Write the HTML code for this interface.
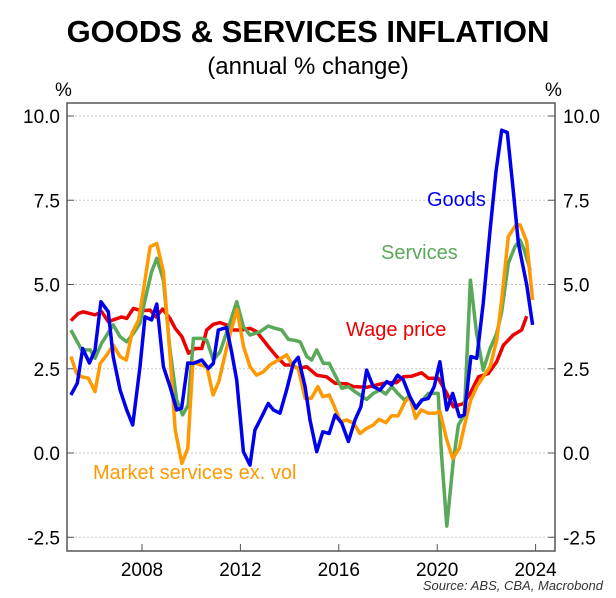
<!DOCTYPE html>
<html><head><meta charset="utf-8"><style>
body{margin:0;background:#fff;}
svg{display:block;font-family:"Liberation Sans",sans-serif;}
</style></head><body>
<svg width="616" height="598" viewBox="0 0 616 598">
<text x="308" y="42" text-anchor="middle" font-size="31" font-weight="bold">GOODS &amp; SERVICES INFLATION</text>
<text x="308" y="74" text-anchor="middle" font-size="24">(annual % change)</text>
<text x="55" y="96" font-size="19">%</text>
<text x="545" y="96" font-size="19">%</text>
<g id="grid"></g>
<g id="ticks"></g>
<g id="series"></g>
<rect x="67" y="103" width="488" height="448" fill="none" stroke="#555" stroke-width="1.5"/>
<text x="427" y="206" font-size="20" fill="#0000ee">Goods</text>
<text x="381" y="259" font-size="20" fill="#5aa85a">Services</text>
<text x="346" y="336" font-size="20" fill="#ee0000">Wage price</text>
<text x="93" y="479" font-size="20" fill="#ff9900">Market services ex. vol</text>
<text x="603" y="590" text-anchor="end" font-size="13" font-style="italic" fill="#333">Source: ABS, CBA, Macrobond</text>
</svg>
<script>
const yTicks=[10,7.5,5,2.5,0,-2.5];
const yTickLabels=["10.0","7.5","5.0","2.5","0.0","-2.5"];
const xTicks=[2008,2012,2016,2020,2024];
const goodsYears=[2005.11,2005.37,2005.59,2005.86,2006.09,2006.33,2006.63,2006.83,2007.11,2007.38,2007.62,2007.92,2008.12,2008.39,2008.6,2008.87,2009.14,2009.41,2009.61,2009.86,2010.09,2010.43,2010.7,2010.9,2011.1,2011.44,2011.65,2011.85,2012.12,2012.39,2012.59,2012.87,2013.13,2013.34,2013.61,2013.88,2014.15,2014.35,2014.63,2014.83,2015.1,2015.35,2015.61,2015.85,2016.12,2016.39,2016.66,2016.9,2017.13,2017.4,2017.67,2017.95,2018.15,2018.39,2018.62,2018.89,2019.14,2019.37,2019.64,2019.88,2020.11,2020.39,2020.63,2020.9,2021.1,2021.37,2021.61,2021.87,2022.15,2022.39,2022.62,2022.85,2023.09,2023.3,2023.64,2023.88];
const goodsValues=[1.72,2.07,3.1,2.67,3.05,4.49,4.19,2.86,1.87,1.28,0.83,2.56,4.04,3.95,4.42,2.56,1.97,1.28,1.33,2.67,2.66,2.76,2.51,2.66,3.65,3.72,2.97,2.17,0.04,-0.36,0.68,1.08,1.47,1.28,1.18,1.87,2.66,2.84,1.97,0.98,0.04,0.63,0.58,1.13,0.88,0.34,0.98,1.37,2.46,1.97,1.87,2.12,2.02,2.31,2.17,1.67,1.33,1.57,1.62,1.97,2.71,1.28,1.77,1.08,1.13,2.86,2.81,4.44,6.62,8.35,9.58,9.51,7.8,6.22,4.99,3.8];
const servYears=[2005.11,2005.55,2005.89,2006.09,2006.36,2006.83,2007.11,2007.38,2007.65,2007.92,2008.12,2008.39,2008.6,2008.87,2009.14,2009.41,2009.65,2009.88,2010.09,2010.43,2010.63,2010.9,2011.17,2011.57,2011.85,2012.12,2012.39,2012.8,2013.13,2013.41,2013.68,2013.95,2014.15,2014.43,2014.7,2014.9,2015.1,2015.37,2015.61,2015.85,2016.12,2016.39,2016.66,2016.86,2017.13,2017.4,2017.67,2017.91,2018.15,2018.4,2018.67,2018.86,2019.07,2019.34,2019.64,2020.04,2020.17,2020.39,2020.66,2020.86,2021.1,2021.35,2021.6,2021.87,2022.15,2022.42,2022.62,2022.89,2023.16,2023.37,2023.54,2023.78];
const servValues=[3.65,3.06,3.06,2.81,3.26,3.8,3.45,3.3,3.55,3.85,4.54,5.38,5.78,5.13,3.06,1.57,1.13,1.42,3.4,3.4,3.35,2.76,3.0,3.85,4.49,3.75,3.5,3.6,3.77,3.7,3.65,3.37,3.35,3.3,2.86,2.76,3.06,2.66,2.66,2.31,1.92,1.97,1.82,1.72,1.59,1.77,1.87,1.75,1.97,1.77,1.57,1.69,1.33,1.52,1.77,1.77,0,-2.17,-0.21,0.83,1.13,5.13,3.55,2.46,3.1,3.55,4.19,5.63,6.12,6.32,6.02,5.43];
const wageYears=[2005.11,2005.41,2005.61,2006.09,2006.36,2006.63,2006.91,2007.18,2007.38,2007.65,2007.99,2008.33,2008.57,2008.84,2009.14,2009.35,2009.62,2009.89,2010.16,2010.43,2010.63,2010.9,2011.17,2011.44,2011.71,2012.05,2012.39,2012.66,2012.93,2013.2,2013.48,2013.81,2014.08,2014.35,2014.69,2015.1,2015.5,2015.85,2016.33,2016.6,2017.14,2017.54,2017.95,2018.35,2018.62,2018.96,2019.37,2019.64,2020.04,2020.39,2020.66,2021.07,2021.34,2021.68,2022.08,2022.42,2022.69,2023.09,2023.43,2023.64];
const wageValues=[3.93,4.14,4.19,4.1,4.19,3.9,3.97,4.04,3.99,4.29,4.22,4.24,4.04,4.27,3.99,3.7,3.45,2.96,3.1,3.1,3.65,3.82,3.87,3.8,3.65,3.65,3.7,3.6,3.35,3.1,2.86,2.61,2.61,2.51,2.56,2.31,2.26,2.07,2.05,1.97,1.95,2.02,2.09,2.09,2.26,2.28,2.38,2.22,2.22,1.77,1.37,1.47,1.77,2.26,2.36,2.71,3.2,3.5,3.65,4.06];
const mktYears=[2005.11,2005.34,2005.55,2005.82,2006.09,2006.3,2006.57,2006.83,2007.11,2007.36,2007.59,2007.86,2008.06,2008.33,2008.6,2008.87,2009.12,2009.35,2009.62,2009.86,2010.07,2010.37,2010.64,2010.89,2011.12,2011.39,2011.59,2011.86,2012.13,2012.39,2012.66,2012.93,2013.2,2013.54,2013.88,2014.15,2014.35,2014.63,2014.88,2015.15,2015.35,2015.61,2015.85,2016.06,2016.33,2016.6,2016.86,2017.13,2017.4,2017.64,2017.91,2018.14,2018.41,2018.69,2018.89,2019.12,2019.35,2019.64,2019.91,2020.11,2020.39,2020.63,2020.9,2021.13,2021.36,2021.61,2021.87,2022.15,2022.42,2022.62,2022.89,2023.2,2023.37,2023.64,2023.88];
const mktValues=[2.86,2.36,2.26,2.22,1.82,2.66,2.91,3.2,2.86,2.76,3.55,3.95,4.84,6.12,6.22,5.38,3.06,0.68,-0.31,0.14,2.71,2.61,2.56,1.72,2.12,2.96,3.55,4.26,3.15,2.56,2.31,2.41,2.61,2.76,2.91,2.56,2.51,1.62,1.62,1.97,1.67,1.72,1.33,0.93,0.98,0.88,0.58,0.73,0.83,1.0,0.9,1.1,1.1,1.52,1.67,1.03,1.28,1.18,1.18,1.23,0.39,-0.16,0.14,0.88,1.57,1.97,2.26,2.56,3.35,4.54,6.42,6.77,6.77,6.27,4.54];
</script>
<script>
const NS="http://www.w3.org/2000/svg";
const xS=yr=>142+(yr-2008)*24.6;
const yS=v=>453-v*33.7;
const grid=document.getElementById('grid'),ticks=document.getElementById('ticks'),series=document.getElementById('series');
function mk(tag,attrs,parent){const e=document.createElementNS(NS,tag);for(const k in attrs)e.setAttribute(k,attrs[k]);parent.appendChild(e);return e;}
yTicks.forEach((v,i)=>{
  const y=yS(v);
  const g=mk('line',{x1:67,x2:555,y1:y,y2:y,stroke:'#c8c8c8','stroke-width':1,'stroke-dasharray':'2,2'},grid);
  
  
  const tl=mk('line',{x1:67,x2:74,y1:y,y2:y,stroke:'#555','stroke-width':1},ticks);
  
  
  const tr=mk('line',{x1:548,x2:555,y1:y,y2:y,stroke:'#555','stroke-width':1},ticks);
  
  
  const l=mk('text',{x:60,y:y+7,'text-anchor':'end','font-size':19},ticks);
  l.textContent=yTickLabels[i];
  
  
  const r=mk('text',{x:563,y:y+7,'font-size':19},ticks);
  r.textContent=yTickLabels[i];
  
  
});
xTicks.forEach(yr=>{
  const x=xS(yr);
  const t=mk('line',{x1:x,x2:x,y1:544,y2:551,stroke:'#555','stroke-width':1},ticks);
  
  
  const l=mk('text',{x:x,y:576,'text-anchor':'middle','font-size':19},ticks);
  l.textContent=String(yr);
  
  
});
function line(xs,vs,color,name){
  const n=Math.min(xs.length,vs.length);
  let d='';
  for(let i=0;i<n;i++)d+=(i?'L':'M')+xS(xs[i]).toFixed(1)+','+yS(vs[i]).toFixed(1)+' ';
  const p=mk('path',{d:d,fill:'none',stroke:color,'stroke-width':3.5,'stroke-linejoin':'round'},series);
  
  
}
line(wageYears,wageValues,'#ee0000','wage-price-line');
line(servYears,servValues,'#5aa85a','services-line');
line(mktYears,mktValues,'#ff9900','market-services-line');
line(goodsYears,goodsValues,'#0000ee','goods-line');
</script>
</body></html>
